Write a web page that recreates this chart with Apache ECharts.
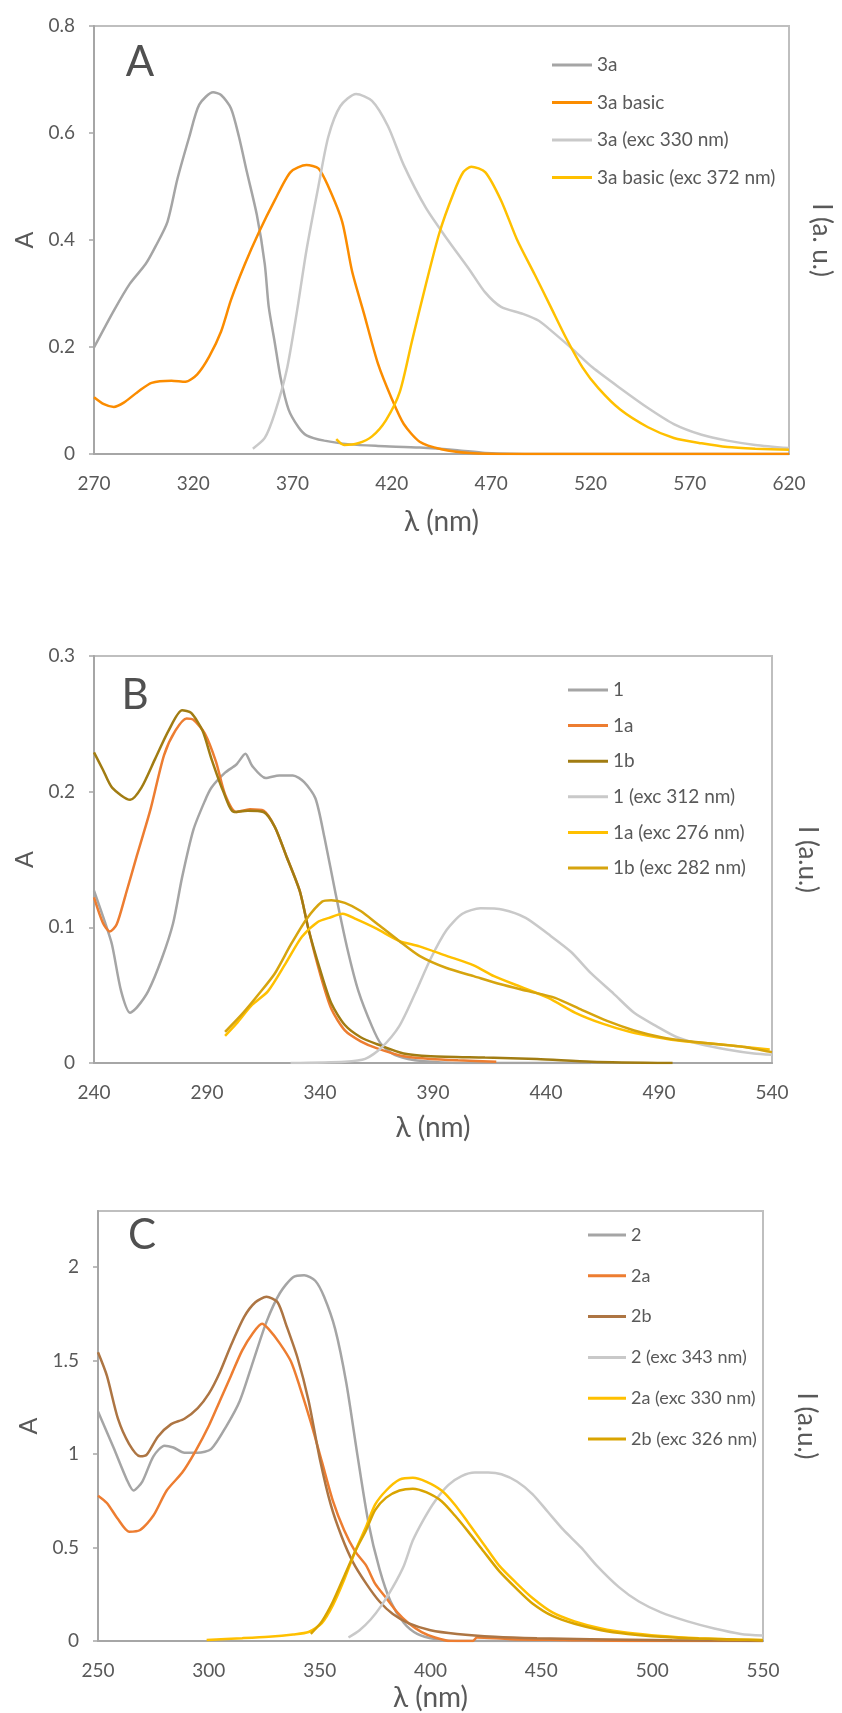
<!DOCTYPE html>
<html>
<head>
<meta charset="utf-8">
<title>Absorption and emission spectra</title>
<script src="https://cdn.jsdelivr.net/npm/echarts@6/dist/echarts.min.js"></script>
<style>
  html, body { margin: 0; padding: 0; background: #fff; }
  #chart { width: 842px; height: 1713px; }
</style>
</head>
<body>
<div id="chart"></div>
<script>
// ---- panel A (3a) ----
const xTicksA = [270, 320, 370, 420, 470, 520, 570, 620]
const yTicksA = [0, 0.2, 0.4, 0.6, 0.8]
const a3a_x = [270, 280, 288, 296, 301, 307, 312, 318, 323, 330, 334, 339, 343, 347, 352, 356, 358, 361, 364, 368, 373, 377, 386, 399, 413, 434, 453, 467, 494, 620]
const a3a_y = [0.199, 0.268, 0.318, 0.355, 0.388, 0.434, 0.514, 0.593, 0.653, 0.676, 0.671, 0.646, 0.593, 0.527, 0.447, 0.355, 0.275, 0.209, 0.142, 0.083, 0.050, 0.035, 0.025, 0.018, 0.015, 0.012, 0.007, 0.002, 0, 0]
const a3aBasic_x = [270, 275, 280, 285, 292, 299, 309, 316, 322, 328, 334, 339, 346, 353, 361, 369, 377, 383, 388, 395, 400, 406, 413, 420, 426, 434, 445, 459, 481, 620]
const a3aBasic_y = [0.106, 0.093, 0.088, 0.096, 0.116, 0.133, 0.137, 0.135, 0.149, 0.182, 0.229, 0.288, 0.355, 0.414, 0.474, 0.527, 0.540, 0.534, 0.500, 0.434, 0.341, 0.262, 0.169, 0.103, 0.056, 0.023, 0.009, 0.002, 0, 0]
const a3aEm_x = [350, 356, 361, 367, 372, 377, 383, 388, 394, 402, 410, 418, 426, 437, 448, 459, 467, 475, 486, 494, 502, 511, 521, 535, 549, 562, 576, 589, 603, 620]
const a3aEm_y = [0.010, 0.030, 0.076, 0.156, 0.262, 0.381, 0.500, 0.593, 0.650, 0.673, 0.660, 0.613, 0.540, 0.461, 0.401, 0.345, 0.302, 0.275, 0.262, 0.249, 0.225, 0.196, 0.162, 0.123, 0.086, 0.056, 0.036, 0.025, 0.017, 0.011]
const a3aBasicEm_x = [392, 396, 403, 410, 417, 424, 430, 437, 444, 451, 456, 460, 467, 475, 483, 492, 500, 508, 516, 524, 535, 549, 562, 576, 589, 603, 620]
const a3aBasicEm_y = [0.028, 0.017, 0.020, 0.033, 0.063, 0.116, 0.209, 0.315, 0.414, 0.487, 0.527, 0.537, 0.527, 0.474, 0.401, 0.335, 0.275, 0.215, 0.162, 0.123, 0.083, 0.050, 0.030, 0.020, 0.013, 0.010, 0.008]

// ---- panel B (1) ----
const xTicksB = [240, 290, 340, 390, 440, 490, 540]
const yTicksB = [0, 0.1, 0.2, 0.3]
const b1_x = [240, 245, 248, 252, 256, 259, 264, 270, 275, 279, 284, 289, 292, 298, 303, 307, 310, 316, 322, 328, 333, 338, 342, 347, 352, 357, 363, 367, 373, 382, 389, 400, 460]
const b1_y = [0.127, 0.103, 0.087, 0.053, 0.037, 0.041, 0.053, 0.077, 0.103, 0.137, 0.172, 0.193, 0.203, 0.214, 0.220, 0.228, 0.219, 0.210, 0.212, 0.212, 0.207, 0.195, 0.166, 0.124, 0.085, 0.053, 0.027, 0.014, 0.006, 0.002, 0.001, 0, 0]
const b1a_x = [240, 244, 247, 250, 254, 259, 265, 271, 276, 281, 284, 289, 294, 298, 303, 309, 315, 320, 325, 331, 335, 340, 345, 351, 358, 365, 377, 389, 401, 418]
const b1a_y = [0.122, 0.103, 0.097, 0.102, 0.124, 0.153, 0.187, 0.227, 0.245, 0.254, 0.253, 0.243, 0.222, 0.198, 0.185, 0.187, 0.186, 0.174, 0.153, 0.127, 0.098, 0.066, 0.040, 0.024, 0.016, 0.011, 0.005, 0.003, 0.002, 0.001]
const b1b_x = [240, 244, 248, 256, 261, 267, 273, 279, 283, 288, 292, 297, 302, 308, 315, 320, 325, 331, 335, 340, 345, 351, 358, 365, 377, 389, 413, 436, 460, 496]
const b1b_y = [0.229, 0.216, 0.203, 0.194, 0.203, 0.224, 0.245, 0.260, 0.258, 0.245, 0.224, 0.201, 0.185, 0.186, 0.185, 0.174, 0.153, 0.127, 0.098, 0.069, 0.044, 0.028, 0.019, 0.014, 0.007, 0.005, 0.004, 0.003, 0.001, 0]
const b1Em_x = [327, 351, 360, 367, 375, 382, 389, 396, 403, 411, 421, 431, 441, 451, 460, 470, 479, 489, 498, 508, 520, 532, 540]
const b1Em_y = [0, 0.001, 0.003, 0.011, 0.027, 0.051, 0.077, 0.098, 0.110, 0.114, 0.113, 0.107, 0.095, 0.082, 0.066, 0.051, 0.037, 0.027, 0.019, 0.014, 0.010, 0.007, 0.006]
const b1aEm_x = [298, 303, 310, 317, 325, 332, 339, 344, 350, 356, 365, 375, 384, 396, 408, 417, 429, 441, 453, 465, 477, 489, 501, 515, 527, 539]
const b1aEm_y = [0.020, 0.029, 0.043, 0.053, 0.074, 0.093, 0.104, 0.107, 0.110, 0.106, 0.099, 0.090, 0.086, 0.079, 0.072, 0.064, 0.056, 0.048, 0.037, 0.029, 0.023, 0.019, 0.016, 0.014, 0.012, 0.010]
const b1bEm_x = [298, 306, 313, 320, 327, 334, 341, 345, 351, 358, 365, 375, 384, 396, 408, 420, 432, 444, 456, 467, 479, 491, 503, 515, 527, 540]
const b1bEm_y = [0.023, 0.037, 0.051, 0.066, 0.087, 0.106, 0.119, 0.120, 0.118, 0.112, 0.103, 0.090, 0.079, 0.070, 0.064, 0.058, 0.053, 0.048, 0.039, 0.031, 0.024, 0.019, 0.016, 0.014, 0.012, 0.008]

// ---- panel C (2) ----
const xTicksC = [250, 300, 350, 400, 450, 500, 550]
const yTicksC = [0, 0.5, 1, 1.5, 2]
const c2_x = [250, 257, 263, 266, 270, 275, 280, 284, 289, 295, 301, 308, 314, 320, 326, 332, 338, 343, 348, 352, 357, 362, 367, 372, 377, 382, 388, 394, 402, 412, 550]
const c2_y = [1.227, 1.035, 0.863, 0.805, 0.853, 0.988, 1.045, 1.035, 1.007, 1.007, 1.026, 1.151, 1.285, 1.496, 1.707, 1.860, 1.946, 1.956, 1.927, 1.841, 1.668, 1.381, 0.997, 0.633, 0.384, 0.211, 0.096, 0.038, 0.010, 0, 0]
const c2a_x = [250, 254, 259, 264, 269, 275, 281, 288, 294, 300, 305, 310, 315, 320, 324, 327, 332, 337, 341, 346, 351, 356, 361, 366, 371, 375, 380, 385, 390, 396, 402, 409, 419, 421, 436, 460, 497, 550]
const c2a_y = [0.777, 0.738, 0.652, 0.585, 0.594, 0.671, 0.805, 0.901, 1.016, 1.151, 1.285, 1.419, 1.553, 1.649, 1.697, 1.668, 1.592, 1.496, 1.361, 1.170, 0.959, 0.748, 0.594, 0.479, 0.403, 0.307, 0.230, 0.153, 0.096, 0.048, 0.019, 0, 0, 0.019, 0.010, 0.006, 0, 0]
const c2b_x = [250, 254, 259, 264, 269, 272, 277, 283, 289, 295, 300, 305, 310, 316, 321, 326, 331, 335, 340, 345, 350, 355, 360, 365, 371, 377, 383, 390, 400, 412, 429, 448, 472, 509, 550]
const c2b_y = [1.544, 1.419, 1.189, 1.055, 0.988, 0.997, 1.093, 1.160, 1.189, 1.246, 1.323, 1.438, 1.582, 1.735, 1.812, 1.841, 1.812, 1.687, 1.515, 1.285, 0.978, 0.729, 0.556, 0.422, 0.307, 0.211, 0.144, 0.096, 0.058, 0.038, 0.023, 0.015, 0.010, 0.004, 0]
const c2Em_x = [363, 368, 373, 378, 383, 388, 392, 397, 402, 408, 414, 420, 426, 432, 439, 446, 453, 460, 468, 475, 485, 494, 504, 516, 528, 540, 550]
const c2Em_y = [0.019, 0.058, 0.115, 0.192, 0.288, 0.403, 0.537, 0.652, 0.748, 0.834, 0.882, 0.901, 0.901, 0.892, 0.853, 0.786, 0.690, 0.594, 0.499, 0.403, 0.288, 0.211, 0.153, 0.105, 0.067, 0.038, 0.029]
const c2aEm_x = [299, 315, 327, 338, 345, 351, 356, 361, 366, 371, 375, 380, 386, 392, 398, 405, 411, 417, 424, 431, 439, 446, 455, 465, 477, 489, 504, 521, 538, 550]
const c2aEm_y = [0.006, 0.015, 0.023, 0.035, 0.048, 0.096, 0.192, 0.326, 0.479, 0.614, 0.729, 0.805, 0.863, 0.873, 0.853, 0.805, 0.729, 0.633, 0.518, 0.403, 0.307, 0.230, 0.153, 0.105, 0.067, 0.044, 0.027, 0.015, 0.008, 0.006]
const c2bEm_x = [346, 351, 356, 361, 366, 371, 375, 380, 386, 392, 398, 405, 411, 417, 424, 431, 439, 446, 455, 465, 477, 489, 504, 521, 538, 550]
const c2bEm_y = [0.038, 0.105, 0.211, 0.345, 0.479, 0.594, 0.700, 0.767, 0.805, 0.815, 0.796, 0.748, 0.671, 0.585, 0.479, 0.374, 0.278, 0.201, 0.134, 0.092, 0.058, 0.038, 0.023, 0.013, 0.008, 0.004]

const font = 'Lato, "Open Sans", sans-serif'
const textColor = '#595959'
const axisColor = '#a6a6a6'

function pairs(xs, ys) {
  return xs.map((x, i) => [x, ys[i]])
}

function xAxis(gridIndex, min, max, ticks, nameGap) {
  return {
    type: 'value', gridIndex, min, max,
    name: 'λ (nm)', nameLocation: 'middle', nameGap,
    nameTextStyle: {fontSize: 28, color: textColor, fontFamily: font},
    axisLine: {show: true, onZero: false, lineStyle: {color: axisColor, width: 2}},
    axisTick: {show: false},
    splitLine: {show: false},
    axisLabel: {customValues: ticks, fontSize: 19, color: textColor, fontFamily: font, margin: 20}
  }
}

function yLeft(gridIndex, max, ticks) {
  return {
    type: 'value', gridIndex, min: 0, max, position: 'left',
    name: 'A', nameLocation: 'middle', nameRotate: 90, nameGap: 57,
    nameTextStyle: {fontSize: 25, color: textColor, fontFamily: font},
    axisLine: {show: true, onZero: false, lineStyle: {color: axisColor, width: 2}},
    axisTick: {show: true, customValues: ticks, length: 5, lineStyle: {color: axisColor, width: 1.5}},
    splitLine: {show: false},
    axisLabel: {customValues: ticks, fontSize: 19, color: textColor, fontFamily: font, margin: 19}
  }
}

// emission intensities sit on a hidden secondary axis
function yRight(gridIndex, max, label, nameGap) {
  return {
    type: 'value', gridIndex, min: 0, max, position: 'right',
    name: label, nameLocation: 'middle', nameRotate: -90, nameGap,
    nameTextStyle: {fontSize: 26, color: textColor, fontFamily: font},
    axisLine: {show: false},
    axisTick: {show: false},
    splitLine: {show: false},
    axisLabel: {show: false}
  }
}

function line(name, color, xi, yi, data) {
  return {
    name, type: 'line', xAxisIndex: xi, yAxisIndex: yi,
    data, showSymbol: false, symbol: 'none',
    smooth: 0.25,
    lineStyle: {color, width: 2.5},
    itemStyle: {color}
  }
}

function legend(names, left, top, itemWidth, gap, size) {
  return {
    data: names, orient: 'vertical', left, top,
    icon: 'rect', itemWidth, itemHeight: 3, itemGap: gap,
    selectedMode: false,
    textStyle: {fontSize: size, color: textColor, fontFamily: font, lineHeight: 22}
  }
}

const grey = '#a5a5a5'
const lightGrey = '#c9c9c9'
const yellow = '#ffc000'
const letterStyle = {font: '42px Lato', fill: '#505050', align: 'center', verticalAlign: 'middle'}

const chart = echarts.init(document.getElementById('chart'))
const option = {
  backgroundColor: '#ffffff',
  animation: false,
  grid: [
    {left: 94, right: 53, top: 26, height: 428, show: true, borderColor: '#bfbfbf', borderWidth: 2},
    {left: 94, right: 70, top: 656, height: 407, show: true, borderColor: '#bfbfbf', borderWidth: 2},
    {left: 98, right: 79, top: 1211, height: 431, show: true, borderColor: '#bfbfbf', borderWidth: 2}
  ],
  xAxis: [
    xAxis(0, 270, 620, xTicksA, 54),
    xAxis(1, 240, 540, xTicksB, 51),
    xAxis(2, 250, 550, xTicksC, 43)
  ],
  yAxis: [
    yLeft(0, 0.8, yTicksA),
    yRight(0, 0.8, 'I (a. u.)', 19),
    yLeft(1, 0.3, yTicksB),
    yRight(1, 0.3, 'I (a.u.)', 22),
    yLeft(2, 2.3, yTicksC),
    yRight(2, 2.3, 'I (a.u.)', 30)
  ],
  legend: [
    legend(['3a', '3a basic', '3a (exc 330 nm)', '3a basic (exc 372 nm)'], 547, 49, 40, 15.5, 19),
    legend(['1', '1a', '1b', '1 (exc 312 nm)', '1a (exc 276 nm)', '1b (exc 282 nm)'], 563, 674, 40, 13.6, 19),
    legend(['2', '2a', '2b', '2 (exc 343 nm)', '2a (exc 330 nm)', '2b (exc 326 nm)'], 583, 1219, 38, 18.8, 18)
  ],
  graphic: [
    {type: 'text', x: 140, y: 62, style: Object.assign({text: 'A'}, letterStyle)},
    {type: 'text', x: 135, y: 695, style: Object.assign({text: 'B'}, letterStyle)},
    {type: 'text', x: 142, y: 1235, style: Object.assign({text: 'C'}, letterStyle)}
  ],
  series: [
    line('3a', grey, 0, 0, pairs(a3a_x, a3a_y)),
    line('3a basic', '#fb8c00', 0, 0, pairs(a3aBasic_x, a3aBasic_y)),
    line('3a (exc 330 nm)', lightGrey, 0, 1, pairs(a3aEm_x, a3aEm_y)),
    line('3a basic (exc 372 nm)', yellow, 0, 1, pairs(a3aBasicEm_x, a3aBasicEm_y)),

    line('1', grey, 1, 2, pairs(b1_x, b1_y)),
    line('1a', '#ed7d31', 1, 2, pairs(b1a_x, b1a_y)),
    line('1b', '#a17c12', 1, 2, pairs(b1b_x, b1b_y)),
    line('1 (exc 312 nm)', lightGrey, 1, 3, pairs(b1Em_x, b1Em_y)),
    line('1a (exc 276 nm)', yellow, 1, 3, pairs(b1aEm_x, b1aEm_y)),
    line('1b (exc 282 nm)', '#d6a40e', 1, 3, pairs(b1bEm_x, b1bEm_y)),

    line('2', grey, 2, 4, pairs(c2_x, c2_y)),
    line('2a', '#ed7d31', 2, 4, pairs(c2a_x, c2a_y)),
    line('2b', '#ad7543', 2, 4, pairs(c2b_x, c2b_y)),
    line('2 (exc 343 nm)', lightGrey, 2, 5, pairs(c2Em_x, c2Em_y)),
    line('2a (exc 330 nm)', yellow, 2, 5, pairs(c2aEm_x, c2aEm_y)),
    line('2b (exc 326 nm)', '#d9a400', 2, 5, pairs(c2bEm_x, c2bEm_y))
  ]
}
chart.setOption(option)
</script>
</body>
</html>
